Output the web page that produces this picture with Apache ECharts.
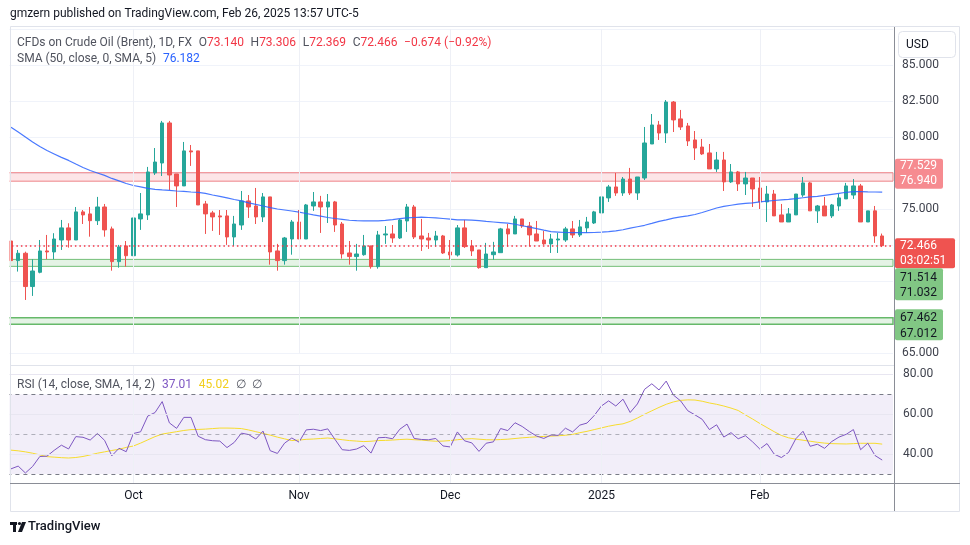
<!DOCTYPE html>
<html><head><meta charset="utf-8">
<script src="https://cdn.jsdelivr.net/npm/echarts@6/dist/echarts.min.js"></script>
<style>html,body{margin:0;padding:0;background:#fff}#c{width:970px;height:545px}</style>
</head><body><div id="c"></div><script>
// ---------- data ----------
const firstDay = '2024-09-06', lastDay = '2025-02-26';
const holidays = ['2024-12-25', '2025-01-01'];
const dates = (function () {
  const out = []; const d = new Date(firstDay + 'T00:00:00Z'); const end = new Date(lastDay + 'T00:00:00Z');
  while (d <= end) { const s = d.toISOString().slice(0, 10); const w = d.getUTCDay();
    if (w !== 0 && w !== 6 && holidays.indexOf(s) < 0) out.push(s); d.setUTCDate(d.getUTCDate() + 1); }
  return out;
})();
const opens = [72.79,71.43,71.94,69.63,70.62,72.10,72.03,72.86,73.70,72.86,74.81,74.67,74.20,75.15,73.63,71.36,72.45,71.77,74.32,74.60,
77.51,78.20,80.98,77.44,76.61,79.04,79.04,75.36,74.74,74.53,74.53,73.07,73.90,75.57,75.22,74.46,75.85,72.10,71.43,72.93,
74.11,72.93,75.22,75.50,75.15,75.50,73.97,71.96,71.71,71.84,72.45,71.01,73.21,73.28,73.00,74.18,75.15,73.14,73.00,72.86,
73.14,72.03,71.82,73.70,72.45,72.17,70.94,71.84,71.98,73.63,73.28,74.32,73.83,73.28,72.86,72.59,72.86,72.86,73.63,73.21,
73.70,74.04,74.74,75.78,76.54,76.12,77.09,76.12,77.16,79.52,80.84,80.28,82.43,81.26,80.77,79.80,79.31,78.90,77.79,78.41,
76.89,77.58,76.75,77.16,76.47,75.50,76.05,74.60,74.11,74.60,75.98,76.82,74.88,75.22,74.53,75.22,75.71,75.98,76.61,74.11,
74.88,73.140];
const highs = [73.44,72.17,72.05,71.53,72.86,73.21,73.33,74.25,74.02,75.15,74.94,75.15,75.85,75.36,73.79,72.52,72.79,75.43,76.12,77.93,
79.24,81.12,81.12,77.44,79.66,79.45,79.04,75.57,74.88,74.94,74.94,74.53,76.26,75.98,76.47,76.12,75.85,72.59,73.07,74.25,
74.94,75.36,76.19,75.92,76.05,75.57,74.11,72.79,72.59,73.21,72.45,73.49,73.83,73.90,74.32,75.36,75.29,74.32,73.35,73.49,
73.21,72.86,73.90,74.25,72.86,72.17,72.66,72.73,73.70,73.97,74.53,74.32,74.11,74.18,73.49,73.28,73.35,73.77,74.18,74.25,
74.46,74.88,76.54,76.68,77.51,77.23,77.86,77.23,80.70,81.60,81.12,82.57,82.50,81.88,80.98,80.42,79.87,79.52,78.97,78.97,
78.13,77.65,77.58,77.16,77.23,76.61,76.33,75.36,75.08,76.05,77.23,76.89,75.29,75.85,75.36,76.05,76.82,77.09,76.75,74.88,
75.22,73.306];
const lows = [70.64,70.67,68.70,68.98,70.55,71.53,71.53,72.17,72.33,72.86,73.97,73.09,73.90,73.09,70.73,70.94,71.01,69.90,73.56,74.25,
77.37,77.30,76.33,75.15,76.61,78.00,75.29,73.28,73.49,73.21,72.52,72.45,73.56,74.39,73.97,74.11,71.15,70.73,71.15,71.84,
72.93,72.93,74.88,73.35,74.04,73.42,71.57,71.15,70.73,71.77,70.87,70.87,72.59,72.66,72.93,73.42,72.93,72.10,72.24,72.40,
71.89,71.50,71.71,72.31,71.75,70.87,70.94,71.50,71.98,72.40,73.28,73.70,72.40,72.79,72.52,71.96,71.96,72.73,73.00,73.07,
73.35,73.97,74.67,75.50,75.92,75.92,75.98,75.64,77.02,79.52,79.80,79.59,80.35,80.49,79.38,78.41,78.76,77.79,77.58,76.26,
76.82,76.26,75.98,75.15,75.01,74.11,74.53,74.11,74.11,74.60,75.85,74.88,74.04,74.53,74.39,74.88,75.71,75.71,74.11,74.11,
72.66,72.369];
const closes = [71.43,71.94,69.63,70.71,72.10,72.03,72.93,73.70,72.86,74.81,74.60,74.20,75.15,73.56,71.36,72.38,71.77,74.39,74.67,77.58,
78.27,80.98,77.37,76.61,79.04,78.97,75.29,74.67,74.46,74.46,73.07,73.97,75.57,75.15,74.46,75.85,72.03,71.43,73.00,74.11,
72.93,75.29,75.50,75.15,75.50,73.90,71.89,71.71,71.89,72.45,71.01,73.21,73.28,73.00,74.25,75.15,73.07,72.93,72.86,73.14,
71.96,71.82,73.70,72.40,72.10,70.94,71.89,72.03,73.63,73.28,74.32,73.83,73.21,72.79,72.59,72.93,72.93,73.63,73.21,73.77,
74.11,74.81,75.85,76.54,76.12,77.09,76.12,77.23,79.59,80.84,80.28,82.43,81.19,80.70,79.73,79.24,78.83,77.79,78.41,76.89,
77.58,76.75,77.16,76.40,75.50,76.05,74.53,74.11,74.67,76.05,76.82,74.88,75.22,74.53,75.29,75.78,76.61,76.61,74.11,74.88,
73.140,72.466];
const sma50 = [80.68,80.35,80.01,79.66,79.35,79.07,78.83,78.59,78.38,78.13,77.89,77.68,77.51,77.34,77.13,76.96,76.78,76.64,76.54,76.44,
76.37,76.33,76.30,76.26,76.23,76.19,76.16,76.09,75.98,75.88,75.78,75.67,75.57,75.44,75.33,75.22,75.10,75.01,74.94,74.87,
74.79,74.70,74.60,74.51,74.42,74.35,74.29,74.23,74.20,74.18,74.18,74.18,74.22,74.27,74.34,74.39,74.42,74.44,74.42,74.39,
74.35,74.31,74.26,74.25,74.24,74.20,74.15,74.11,74.07,74.03,73.95,73.85,73.75,73.65,73.54,73.44,73.41,73.38,73.37,73.37,
73.37,73.38,73.40,73.44,73.49,73.57,73.68,73.78,73.88,74.01,74.15,74.26,74.38,74.47,74.53,74.63,74.77,74.92,75.08,75.19,
75.27,75.35,75.40,75.44,75.50,75.55,75.60,75.64,75.68,75.73,75.79,75.85,75.89,75.96,76.03,76.10,76.17,76.22,76.22,76.20,
76.19,76.182];
const rsi14 = [32.59,33.97,30.52,33.79,38.79,38.97,41.90,44.48,42.59,48.79,48.45,47.07,50.34,46.90,39.14,42.93,41.21,50.34,51.21,59.14,
60.86,66.38,55.69,52.93,58.45,58.45,48.97,47.24,46.72,46.55,43.28,45.86,50.52,49.83,47.59,51.55,41.72,40.34,45.52,48.10,
46.03,52.16,52.50,51.82,52.68,47.36,42.21,41.87,42.56,44.27,40.50,48.22,48.39,47.70,52.50,55.08,47.87,47.36,47.19,47.87,
44.10,43.59,51.13,46.67,45.64,41.36,45.47,46.16,52.85,51.82,55.76,53.88,51.30,49.07,47.87,49.59,49.42,53.02,51.13,54.56,
55.59,59.37,64.17,66.74,64.17,67.60,60.91,65.20,72.57,75.32,72.23,76.69,69.66,66.74,61.77,59.71,57.48,52.33,54.73,48.56,
50.79,47.70,49.25,46.16,42.56,45.30,39.98,38.27,40.84,47.70,51.48,43.93,44.96,42.90,46.33,48.56,49.93,52.33,42.21,45.47,
39.30,37.01];
const rsiMa = [41.99,41.65,41.13,40.45,39.59,38.73,38.47,38.21,38.04,38.30,38.81,39.59,40.45,41.13,41.82,42.42,43.37,44.06,45.52,47.15,
48.78,50.07,50.67,51.27,51.87,52.30,52.39,52.56,52.82,53.08,53.08,53.00,52.82,52.13,51.27,50.41,49.55,48.52,47.66,46.80,
47.06,47.41,47.58,47.84,48.09,47.66,47.23,46.80,46.54,46.29,46.46,46.80,46.89,47.06,47.32,47.49,47.23,47.06,46.72,46.46,
46.54,46.80,47.23,47.58,47.75,47.49,47.23,47.15,47.32,47.49,47.84,48.18,48.44,48.69,48.87,49.04,49.21,49.47,49.90,50.76,
51.44,52.30,53.16,54.02,54.71,55.22,56.43,58.14,60.03,61.75,63.47,65.02,66.22,67.00,67.25,67.17,66.56,65.70,65.02,64.16,
63.13,61.92,59.69,57.63,55.40,53.33,51.27,49.38,48.18,47.49,46.98,46.46,45.94,45.52,45.26,45.17,45.09,45.26,45.43,45.43,
45.43,45.02];
const monthTickIndex = [17, 40, 61, 82, 104];
const monthTickLabels = ['Oct', 'Nov', 'Dec', '2025', 'Feb'];
const resistanceZone = [76.940, 77.529];
const supportZone1 = [71.032, 71.514];
const supportZone2 = [67.012, 67.462];
const rsiGridLevels = [40, 60, 80];
const rsiBandLevels = [30, 70];
const rsiMidLevel = 50;
const countdown = '03:02:51';

// ---------- chart ----------
const FONT = 'Roboto, "Noto Sans", sans-serif';
const TXT = '#3f424d';
const chart = echarts.init(document.getElementById('c'));
const N = dates.length;
const cats = dates.concat(['']);
const candleData = dates.map((d, i) => [opens[i], closes[i], lows[i], highs[i]]);
const lastClose = closes[N - 1];
const L = 7.4, R = 77;

const vGrid = monthTickIndex.map(i => ({ xAxis: cats[i] }));
const rsiLines = rsiGridLevels.map(v => ({ yAxis: v, lineStyle: { color: '#e8e6f1', type: 'solid', width: 1 } }))
  .concat(rsiBandLevels.map(v => ({ yAxis: v, lineStyle: { color: '#787b86', type: [4, 4], width: 1 } })))
  .concat([{ yAxis: rsiMidLevel, lineStyle: { color: 'rgba(120,123,134,0.55)', type: [4, 4], width: 1 } }]);

chart.setOption({
  animation: false,
  backgroundColor: '#ffffff',
  grid: [
    { left: L, right: R, top: 28.95, height: 324.35, outerBoundsMode: 'none' },
    { left: L, right: R, top: 366, height: 117, outerBoundsMode: 'none' }
  ],
  xAxis: [
    { type: 'category', gridIndex: 0, data: cats, boundaryGap: true, axisLine: { show: false }, axisTick: { show: false }, axisLabel: { show: false }, splitLine: { show: false } },
    { type: 'category', gridIndex: 1, data: cats, boundaryGap: true, axisLine: { show: false }, axisTick: { show: false }, splitLine: { show: false },
      axisLabel: { show: true, interval: (i) => monthTickIndex.indexOf(i) >= 0,
        formatter: (v, i) => { const k = monthTickIndex.indexOf(i); return k >= 0 ? monthTickLabels[k] : ''; },
        color: '#131722', fontSize: 12, fontFamily: FONT, margin: 7 } }
  ],
  yAxis: [
    { type: 'value', gridIndex: 0, position: 'right', min: 65, max: 87.5, interval: 2.5,
      axisLine: { show: false }, axisTick: { show: false },
      axisLabel: { margin: 9, color: TXT, fontSize: 12, fontFamily: FONT, formatter: v => v >= 87.5 ? '' : v.toFixed(3) },
      splitLine: { lineStyle: { color: '#f0f3fa', width: 1 } } },
    { type: 'value', gridIndex: 1, position: 'right', min: 25.48, max: 84.27,
      axisLine: { show: false }, axisTick: { show: false }, axisLabel: { show: false }, splitLine: { show: false } }
  ],
  series: [
    { type: 'line', xAxisIndex: 0, yAxisIndex: 0, data: [], z: 1, silent: true,
      markLine: { silent: true, symbol: ['none', 'none'], label: { show: false }, lineStyle: { color: '#eef0f6', width: 1, type: 'solid' }, data: vGrid } },
    { type: 'line', xAxisIndex: 0, yAxisIndex: 0, data: [], z: 2, silent: true,
      markArea: { silent: true, data: [
        [{ yAxis: resistanceZone[0], itemStyle: { color: 'rgba(242,54,69,0.13)', borderColor: '#ef8489', borderWidth: 1 } }, { yAxis: resistanceZone[1] }],
        [{ yAxis: supportZone1[0], itemStyle: { color: 'rgba(76,175,80,0.15)', borderColor: '#74bf78', borderWidth: 1 } }, { yAxis: supportZone1[1] }],
        [{ yAxis: supportZone2[0], itemStyle: { color: 'rgba(76,175,80,0.15)', borderColor: '#66b96a', borderWidth: 1.5 } }, { yAxis: supportZone2[1] }]
      ] },
      markLine: { silent: true, symbol: ['none', 'none'], label: { show: false },
        data: [{ yAxis: lastClose }], lineStyle: { color: '#f23645', type: [1.5, 3], width: 1.5 } } },
    { type: 'candlestick', xAxisIndex: 0, yAxisIndex: 0, data: candleData, barWidth: 4, z: 3, silent: true,
      itemStyle: { color: '#26a69a', color0: '#ef5350', borderColor: '#26a69a', borderColor0: '#ef5350', borderWidth: 1 } },
    { type: 'line', xAxisIndex: 0, yAxisIndex: 0, data: sma50, showSymbol: false, symbol: 'none', z: 4, silent: true,
      lineStyle: { color: '#2962ff', width: 1.2, opacity: 0.85 } },
    { type: 'line', xAxisIndex: 1, yAxisIndex: 1, data: [], z: 1, silent: true,
      markArea: { silent: true, data: [[{ yAxis: rsiBandLevels[0] }, { yAxis: rsiBandLevels[1] }]], itemStyle: { color: 'rgba(126,87,194,0.1)' } },
      markLine: { silent: true, symbol: ['none', 'none'], label: { show: false }, data: rsiLines.concat(vGrid.map(o => ({ xAxis: o.xAxis, lineStyle: { color: '#eef0f6', type: 'solid', width: 1 } }))) } },
    { type: 'line', xAxisIndex: 1, yAxisIndex: 1, data: rsiMa, showSymbol: false, symbol: 'none', z: 3, silent: true,
      lineStyle: { color: '#f7dc2e', width: 1 } },
    { type: 'line', xAxisIndex: 1, yAxisIndex: 1, data: rsi14, showSymbol: false, symbol: 'none', z: 4, silent: true,
      lineStyle: { color: '#7e57c2', width: 1 } }
  ]
});

// ---------- overlays positioned through the axes ----------
const py = v => chart.convertToPixel({ yAxisIndex: 0 }, v);
const ry = v => chart.convertToPixel({ yAxisIndex: 1 }, v);
const ZT = 200;
function tag(x, top, w, h, lines, bg, fg, pos) {
  const els = [{ type: 'rect', z: ZT, shape: { x: x, y: top, width: w, height: h, r: 2 }, style: { fill: bg } }];
  lines.forEach((t, k) => els.push({ type: 'text', z: ZT + 1, x: x + 5, y: top + pos[k], style: { text: t, fill: fg, font: '12px ' + FONT, verticalAlign: 'middle', align: 'left' } }));
  return els;
}
const yLast = py(lastClose);
const yRes = py(resistanceZone[0]);
const ySup2 = py(supportZone2[1]);
const f3 = v => v.toFixed(3);
const change = closes[N - 1] - closes[N - 2];
const pct = change / closes[N - 2] * 100;
const minus = s => s.replace('-', '\u2212');

let g = [
  { type: 'rect', z: 100, shape: { x: 0, y: 20, width: 9.5, height: 500 }, style: { fill: '#fff' } },
  { type: 'rect', z: 101, shape: { x: 10.5, y: 26.5, width: 949, height: 485 }, style: { fill: 'none', stroke: '#e0e3eb', lineWidth: 1 } },
  { type: 'line', z: 101, shape: { x1: 10, y1: 365.5, x2: 894, y2: 365.5 }, style: { stroke: '#e0e3eb', lineWidth: 1 } },
  { type: 'line', z: 101, shape: { x1: 10, y1: 483.5, x2: 960, y2: 483.5 }, style: { stroke: '#8a8d96', lineWidth: 1 } },
  { type: 'line', z: 101, shape: { x1: 894.5, y1: 27, x2: 894.5, y2: 511 }, style: { stroke: '#8a8d96', lineWidth: 1 } },
  { type: 'rect', z: 102, shape: { x: 898.5, y: 31.5, width: 57, height: 26, r: 4 }, style: { fill: '#fff', stroke: '#e0e3eb', lineWidth: 1 } },
  { type: 'text', z: 103, x: 906, y: 45, style: { text: 'USD', fill: '#131722', font: '12px ' + FONT, verticalAlign: 'middle' } }
];
g = g.concat(tag(895, yRes - 22.5, 48, 30, [f3(resistanceZone[1]), f3(resistanceZone[0])], '#f68b90', '#ffffff', [7.5, 22.5]));
g = g.concat(tag(895, yLast - 7.5, 60, 30, [f3(lastClose), countdown], '#ef5350', '#ffffff', [7.5, 22.5]));
g = g.concat(tag(895, yLast + 22.5, 48, 32, [f3(supportZone1[1]), f3(supportZone1[0])], '#81c784', '#131722', [9.5, 25]));
g = g.concat(tag(895, ySup2 - 8.5, 48, 31, [f3(supportZone2[1]), f3(supportZone2[0])], '#81c784', '#131722', [8.5, 24.5]));
rsiGridLevels.forEach(v => g.push({ type: 'text', z: 103, x: 903, y: ry(v), style: { text: v.toFixed(2), fill: TXT, font: '12px ' + FONT, verticalAlign: 'middle' } }));
const rich = {
  g: { fill: '#50535e', fontSize: 12, fontFamily: FONT },
  r: { fill: '#f23645', fontSize: 12, fontFamily: FONT },
  b: { fill: '#2962ff', fontSize: 12, fontFamily: FONT },
  p: { fill: '#7e57c2', fontSize: 12, fontFamily: FONT },
  y: { fill: '#f2cf1d', fontSize: 12, fontFamily: FONT }
};
g.push({ type: 'text', z: 110, x: 10, y: 14, style: { text: 'gmzern published on TradingView.com, Feb 26, 2025 13:57 UTC-5', fill: '#131722', font: '12px ' + FONT, verticalAlign: 'middle' } });
g.push({ type: 'text', z: 110, x: 17, y: 42.5, style: { text:
  '{g|CFDs on Crude Oil (Brent), 1D, FX}  {g|O}{r|' + f3(opens[N - 1]) + '}  {g|H}{r|' + f3(highs[N - 1]) + '}  {g|L}{r|' + f3(lows[N - 1]) + '}  {g|C}{r|' + f3(closes[N - 1]) + '}  {r|' + minus(change.toFixed(3)) + ' (' + minus(pct.toFixed(2)) + '%)}',
  rich: rich, verticalAlign: 'middle' } });
g.push({ type: 'text', z: 110, x: 17, y: 58.5, style: { text: '{g|SMA (50, close, 0, SMA, 5)}  {b|' + f3(sma50[N - 1]) + '}', rich: rich, verticalAlign: 'middle' } });
g.push({ type: 'text', z: 110, x: 17, y: 384.5, style: { text: '{g|RSI (14, close, SMA, 14, 2)}  {p|' + rsi14[N - 1].toFixed(2) + '}  {y|' + rsiMa[N - 1].toFixed(2) + '}  {g|\u2205}  {g|\u2205}', rich: rich, verticalAlign: 'middle' } });
// TradingView logo
g.push({ type: 'rect', z: 110, shape: { x: 10, y: 522, width: 7, height: 3 }, style: { fill: '#131722' } });
g.push({ type: 'rect', z: 110, shape: { x: 13, y: 522, width: 3, height: 10 }, style: { fill: '#131722' } });
g.push({ type: 'circle', z: 110, shape: { cx: 19.5, cy: 523.5, r: 1.6 }, style: { fill: '#131722' } });
g.push({ type: 'polygon', z: 110, shape: { points: [[22, 522], [26, 522], [22, 532], [18, 532]] }, style: { fill: '#131722' } });
g.push({ type: 'text', z: 110, x: 28, y: 527, style: { text: 'TradingView', fill: '#131722', font: '500 13px ' + FONT, verticalAlign: 'middle' } });
chart.setOption({ graphic: g });
</script></body></html>
